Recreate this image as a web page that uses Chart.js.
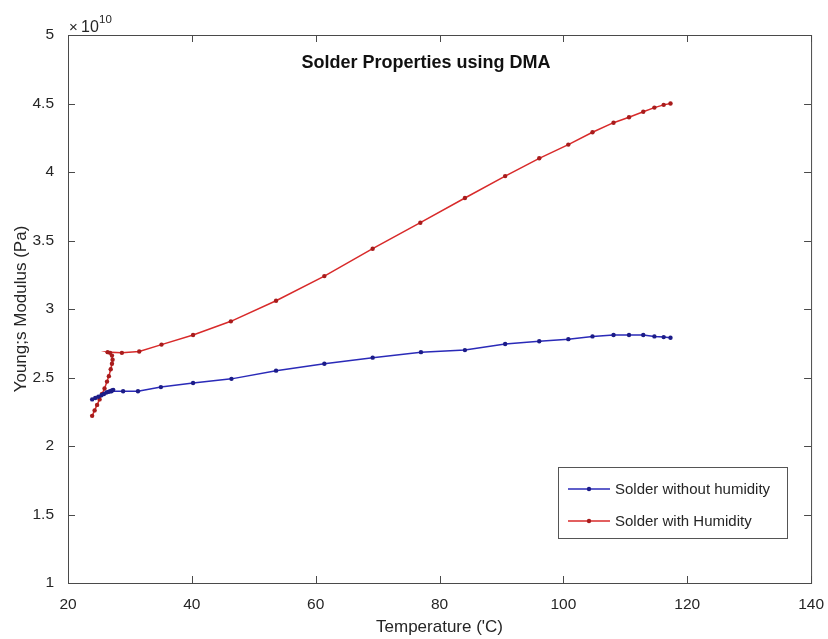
<!DOCTYPE html>
<html>
<head>
<meta charset="utf-8">
<script src="https://cdn.jsdelivr.net/npm/chart.js@4"></script>
<style>
  html, body { margin: 0; padding: 0; background: #fff; }
  #wrap { width: 828px; height: 639px; }
</style>
</head>
<body>
<div id="wrap"><canvas id="dma"></canvas></div>
<script>
// Values (modulus in units of 1e10 Pa)
const tempDry = [23.9, 24.4, 24.9, 25.4, 25.8, 26.2, 26.5, 26.8, 27.1, 27.3, 27.0, 28.9, 31.3, 35.0, 40.2, 46.4, 53.6, 61.4, 69.2, 77.0, 84.1, 90.6, 96.1, 100.8, 104.7, 108.1, 110.6, 112.9, 114.7, 116.2, 117.3];
const modDry = [2.34, 2.35, 2.36, 2.37, 2.38, 2.39, 2.395, 2.40, 2.405, 2.41, 2.40, 2.40, 2.40, 2.43, 2.46, 2.49, 2.55, 2.60, 2.645, 2.685, 2.70, 2.745, 2.765, 2.78, 2.80, 2.81, 2.81, 2.81, 2.80, 2.795, 2.79];

const tempWet = [23.9, 24.3, 24.7, 25.1, 25.5, 25.9, 26.3, 26.6, 26.9, 27.1, 27.2, 27.1, 26.8, 26.4, 28.7, 31.5, 35.1, 40.2, 46.3, 53.6, 61.4, 69.2, 76.9, 84.1, 90.6, 96.1, 100.8, 104.7, 108.1, 110.6, 112.9, 114.7, 116.2, 117.3];
const modWet = [2.22, 2.26, 2.30, 2.34, 2.38, 2.42, 2.47, 2.51, 2.56, 2.60, 2.63, 2.66, 2.68, 2.685, 2.68, 2.69, 2.74, 2.81, 2.91, 3.06, 3.24, 3.44, 3.63, 3.81, 3.97, 4.10, 4.20, 4.29, 4.36, 4.40, 4.44, 4.47, 4.49, 4.50];

const seriesNames = ["Solder without humidity", "Solder with Humidity"];
const xTicks = [20, 40, 60, 80, 100, 120, 140];
const yTicks = [1, 1.5, 2, 2.5, 3, 3.5, 4, 4.5, 5];

const FONT = '"Liberation Sans", Arial, sans-serif';
const AXIS = '#4a4a4a';
const TEXT = '#262626';

const toPoints = (xs, ys) => xs.map((x, i) => ({ x: x, y: ys[i] }));

// Box, inward ticks, title, labels, exponent and legend (MATLAB look)
const matlabFrame = {
    id: 'matlabFrame',
    afterDraw(chart) {
        const { ctx, chartArea: a, scales } = chart;
        ctx.save();
        ctx.strokeStyle = AXIS;
        ctx.lineWidth = 1;
        ctx.strokeRect(a.left + 0.5, a.top + 0.5, a.right - a.left, a.bottom - a.top);

        const tl = 7;
        ctx.beginPath();
        xTicks.forEach(v => {
            const px = Math.round(scales.x.getPixelForValue(v)) + 0.5;
            ctx.moveTo(px, a.bottom); ctx.lineTo(px, a.bottom - tl);
            ctx.moveTo(px, a.top); ctx.lineTo(px, a.top + tl);
        });
        yTicks.forEach(v => {
            const py = Math.round(scales.y.getPixelForValue(v)) + 0.5;
            ctx.moveTo(a.left, py); ctx.lineTo(a.left + tl, py);
            ctx.moveTo(a.right, py); ctx.lineTo(a.right - tl, py);
        });
        ctx.stroke();

        // title
        ctx.fillStyle = '#111';
        ctx.font = 'bold 18px ' + FONT;
        ctx.textAlign = 'center';
        ctx.textBaseline = 'alphabetic';
        ctx.fillText('Solder Properties using DMA', 426, 68);

        // axis labels
        ctx.fillStyle = TEXT;
        ctx.font = '17px ' + FONT;
        ctx.fillText("Temperature ('C)", (a.left + a.right) / 2, 632);
        ctx.save();
        ctx.translate(26, (a.top + a.bottom) / 2);
        ctx.rotate(-Math.PI / 2);
        ctx.fillText('Young;s Modulus (Pa)', 0, 0);
        ctx.restore();

        // exponent
        ctx.textAlign = 'left';
        ctx.font = '15px ' + FONT;
        ctx.fillText('\u00d7', 69, 32);
        ctx.font = '16px ' + FONT;
        ctx.fillText('10', 81, 32);
        ctx.font = '11.5px ' + FONT;
        ctx.fillText('10', 99, 23);

        // legend
        const lx = 558, ly = 467, lw = 229, lh = 71;
        ctx.fillStyle = '#fff';
        ctx.fillRect(lx, ly, lw, lh);
        ctx.strokeStyle = '#555';
        ctx.strokeRect(lx + 0.5, ly + 0.5, lw, lh);
        ctx.font = '15px ' + FONT;
        ctx.textBaseline = 'middle';
        chart.data.datasets.forEach((ds, i) => {
            const y = ly + 22 + i * 32;
            ctx.strokeStyle = ds.borderColor;
            ctx.lineWidth = 1.5;
            ctx.beginPath();
            ctx.moveTo(lx + 10, y); ctx.lineTo(lx + 52, y);
            ctx.stroke();
            ctx.fillStyle = ds.pointBackgroundColor;
            ctx.beginPath();
            ctx.arc(lx + 31, y, 2.2, 0, Math.PI * 2);
            ctx.fill();
            ctx.fillStyle = TEXT;
            ctx.fillText(ds.label, lx + 57, y + 1);
        });
        ctx.restore();
    }
};

new Chart(document.getElementById('dma'), {
    type: 'scatter',
    data: {
        datasets: [{
            label: seriesNames[0],
            data: toPoints(tempDry, modDry),
            showLine: true,
            borderColor: '#2a2ab8',
            borderWidth: 1.5,
            pointRadius: 2.2,
            pointBackgroundColor: '#1c1c88',
            pointBorderWidth: 0
        }, {
            label: seriesNames[1],
            data: toPoints(tempWet, modWet),
            showLine: true,
            borderColor: '#d82a2a',
            borderWidth: 1.5,
            pointRadius: 2.2,
            pointBackgroundColor: '#a81c1c',
            pointBorderWidth: 0
        }]
    },
    options: {
        responsive: true,
        maintainAspectRatio: false,
        animation: false,
        layout: { padding: { left: 0, top: 35, right: 10, bottom: 0 } },
        plugins: {
            legend: { display: false },
            tooltip: { enabled: false }
        },
        scales: {
            x: {
                type: 'linear',
                min: 20, max: 140,
                afterFit: s => { s.height = 56; },
                afterBuildTicks: s => { s.ticks = xTicks.map(v => ({ value: v })); },
                grid: { display: false },
                border: { display: false },
                ticks: { color: TEXT, font: { size: 15.5, family: FONT }, padding: 4, maxRotation: 0 }
            },
            y: {
                type: 'linear',
                min: 1, max: 5,
                afterFit: s => { s.width = 68; },
                afterBuildTicks: s => { s.ticks = yTicks.map(v => ({ value: v })); },
                grid: { display: false },
                border: { display: false },
                ticks: { color: TEXT, font: { size: 15.5, family: FONT }, padding: 6, callback: v => String(v) }
            }
        }
    },
    plugins: [matlabFrame]
});
</script>
</body>
</html>
